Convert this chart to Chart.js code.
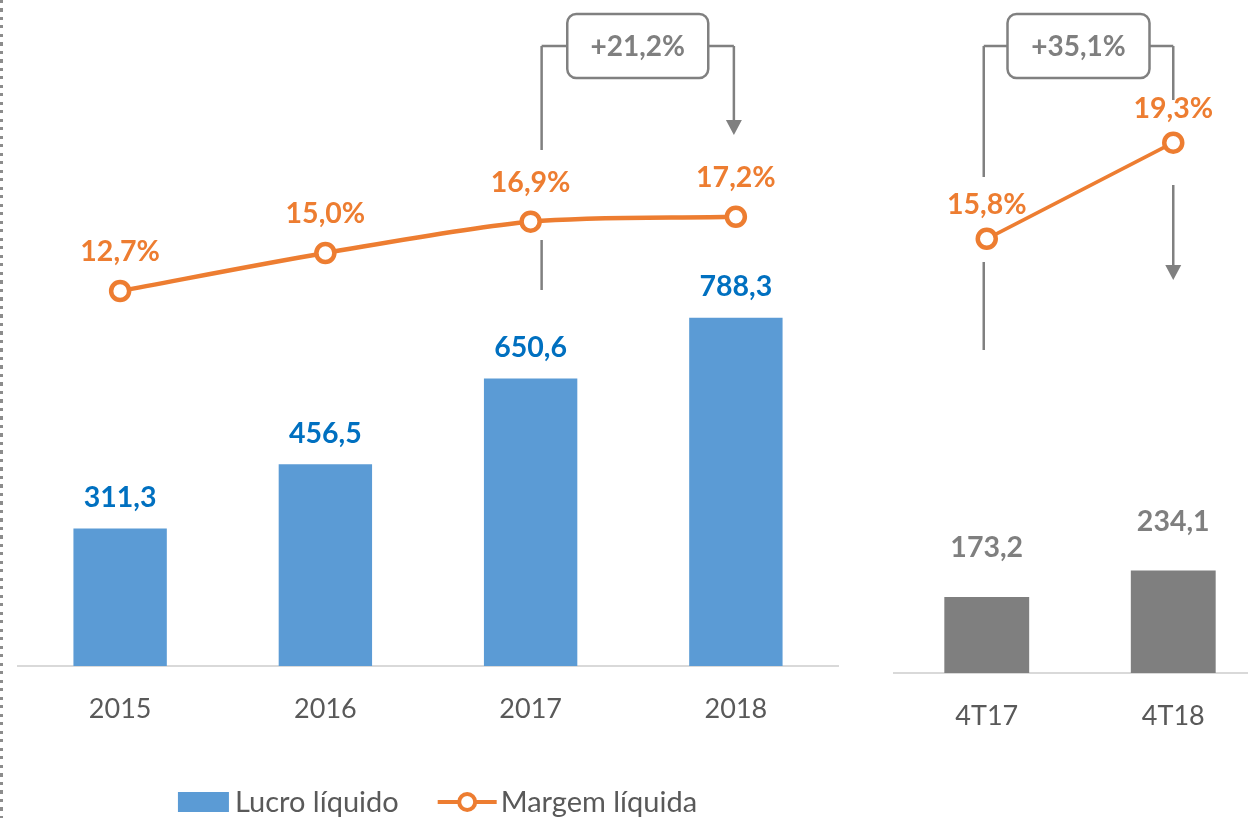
<!DOCTYPE html>
<html>
<head>
<meta charset="utf-8">
<script src="https://cdn.jsdelivr.net/npm/chart.js@4.4.1/dist/chart.umd.min.js"></script>
<style>
  html, body { margin: 0; padding: 0; background: #fff; overflow: hidden; }
  #wrap { position: relative; width: 1248px; height: 818px; overflow: hidden; }
  .dots { position: absolute; left: 0; top: 0; width: 3px; height: 818px;
          background: repeating-linear-gradient(to bottom, #8c8c8c 0 3px, transparent 3px 8.5px); }
  #anual { position: absolute; left: 0; top: 0; width: 860px; height: 818px; }
  #trim { position: absolute; left: 880px; top: 0; width: 400px; height: 818px; }
</style>
</head>
<body>
<div id="wrap">
  <div class="dots"></div>
  <canvas id="anual" width="860" height="818"></canvas>
  <canvas id="trim" width="400" height="818"></canvas>
</div>
<script>
// dados
const anos = ['2015', '2016', '2017', '2018'];
const lucroAnual = [311.3, 456.5, 650.6, 788.3];
const margemAnual = [12.7, 15.0, 16.9, 17.2];

const trimestres = ['4T17', '4T18'];
const lucroTrim = [173.2, 234.1];
const margemTrim = [15.8, 19.3];

const variacaoAnual = '+21,2%';
const variacaoTrim = '+35,1%';

const FONTE = 'Lato';
const AZUL = '#5B9BD5';
const AZUL_TXT = '#0070C0';
const LARANJA = '#ED7D31';
const CINZA = '#7F7F7F';
const CINZA_TXT = '#595959';
const LINHA = '#808080';

const fmt = (v) => v.toFixed(1).replace('.', ',');

// rótulos de valor acima das barras / pontos
const rotulos = {
  id: 'rotulos',
  afterDatasetsDraw(chart, args, opts) {
    const ctx = chart.ctx;
    chart.data.datasets.forEach((ds, i) => {
      const cfg = opts.series[i];
      const meta = chart.getDatasetMeta(i);
      ctx.save();
      ctx.font = `bold ${cfg.size}px ${FONTE}`;
      ctx.fillStyle = cfg.color;
      ctx.textAlign = 'center';
      ctx.textBaseline = 'middle';
      meta.data.forEach((el, j) => {
        ctx.fillText(fmt(ds.data[j]) + cfg.suffix, el.x, el.y - cfg.offset);
      });
      ctx.restore();
    });
  }
};

// chave com caixa de variação e seta
const chave = {
  id: 'chave',
  beforeDatasetsDraw(chart, args, o) {
    const ctx = chart.ctx;
    const xs = chart.scales.x;
    const xL = xs.getPixelForValue(o.from) + o.dxL;
    const xR = xs.getPixelForValue(o.to) + o.dxR;
    const cx = (xL + xR) / 2;
    const bx = cx - o.boxW / 2, by = o.top - o.boxH / 2;
    ctx.save();
    ctx.strokeStyle = LINHA;
    ctx.lineWidth = 2.5;
    ctx.beginPath();
    ctx.moveTo(bx, o.top); ctx.lineTo(xL, o.top);
    ctx.moveTo(bx + o.boxW, o.top); ctx.lineTo(xR, o.top);
    o.segL.forEach(([a, b]) => { ctx.moveTo(xL, a); ctx.lineTo(xL, b); });
    o.segR.forEach(([a, b]) => { ctx.moveTo(xR, a); ctx.lineTo(xR, b); });
    ctx.stroke();
    // ponta da seta
    ctx.fillStyle = LINHA;
    ctx.beginPath();
    ctx.moveTo(xR - 8, o.tip - 15);
    ctx.lineTo(xR + 8, o.tip - 15);
    ctx.lineTo(xR, o.tip);
    ctx.closePath();
    ctx.fill();
    // caixa
    ctx.fillStyle = '#fff';
    ctx.beginPath();
    ctx.roundRect(bx, by, o.boxW, o.boxH, 9);
    ctx.fill();
    ctx.stroke();
    ctx.fillStyle = CINZA;
    ctx.font = `bold 28px ${FONTE}`;
    ctx.textAlign = 'center';
    ctx.textBaseline = 'middle';
    ctx.fillText(o.text, cx, o.top + 1);
    ctx.restore();
  }
};

// legenda desenhada à mão (caixa azul + linha com marcador)
const legenda = {
  id: 'legenda',
  afterDraw(chart, args, o) {
    const ctx = chart.ctx;
    const [linha, barra] = chart.data.datasets;
    ctx.save();
    ctx.font = `29px ${FONTE}`;
    const w1 = ctx.measureText(barra.label).width;
    const w2 = ctx.measureText(linha.label).width;
    const total = 51 + 6 + w1 + 39 + 59 + 4 + w2;
    let x = o.cx - total / 2;
    const y = o.y;
    ctx.fillStyle = barra.backgroundColor;
    ctx.fillRect(x, y - 10, 51, 20);
    x += 57;
    ctx.fillStyle = CINZA_TXT;
    ctx.textBaseline = 'middle';
    ctx.fillText(barra.label, x, y + 1);
    x += w1 + 39;
    ctx.strokeStyle = linha.borderColor;
    ctx.lineWidth = 4;
    ctx.beginPath(); ctx.moveTo(x, y); ctx.lineTo(x + 59, y); ctx.stroke();
    ctx.beginPath(); ctx.arc(x + 29.5, y, 8, 0, Math.PI * 2);
    ctx.fillStyle = '#fff'; ctx.fill(); ctx.lineWidth = 4; ctx.stroke();
    x += 63;
    ctx.fillStyle = CINZA_TXT;
    ctx.fillText(linha.label, x, y + 1);
    ctx.restore();
  }
};

function eixoX(altura) {
  return {
    grid: { display: false, drawTicks: false },
    border: { display: true, color: '#d9d9d9', width: 2 },
    ticks: { font: { family: FONTE, size: 27 }, color: CINZA_TXT, padding: 27 },
    afterFit(s) { s.height = altura; }
  };
}

function linhaMargem(dados, largura, tensao) {
  return {
    type: 'line', label: 'Margem líquida', data: dados, yAxisID: 'y1',
    borderColor: LARANJA, borderWidth: largura, tension: tensao,
    pointRadius: 9, pointBorderWidth: 4.5, pointBackgroundColor: '#fff',
    pointBorderColor: LARANJA, order: 0, clip: false
  };
}

new Chart(document.getElementById('anual'), {
  data: {
    labels: anos,
    datasets: [
      linhaMargem(margemAnual, 4.5, 0.3),
      { type: 'bar', label: 'Lucro líquido', data: lucroAnual, yAxisID: 'y',
        backgroundColor: AZUL, categoryPercentage: 1, barPercentage: 0.455, order: 1 }
    ]
  },
  options: {
    responsive: false, animation: false,
    layout: { padding: { left: 17.5, right: 21.5, top: 10, bottom: 0 } },
    scales: {
      x: eixoX(152),
      y: { display: false, min: 0, max: 1477 },
      y1: { display: false, min: -10, max: 29.5 }
    },
    plugins: {
      legend: { display: false },
      tooltip: { enabled: false },
      rotulos: { series: [
        { size: 28.5, color: LARANJA, suffix: '%', offset: 39 },
        { size: 28.5, color: AZUL_TXT, suffix: '', offset: 31 }
      ] },
      chave: { from: 2, to: 3, dxL: 11, dxR: -2, top: 46, boxW: 141, boxH: 64,
               segL: [[46, 150], [240, 290]], segR: [[46, 122]], tip: 135, text: variacaoAnual },
      legenda: { cx: 437.5, y: 802 }
    }
  },
  plugins: [chave, rotulos, legenda]
});

new Chart(document.getElementById('trim'), {
  data: {
    labels: trimestres,
    datasets: [
      linhaMargem(margemTrim, 3.5, 0),
      { type: 'bar', label: 'Lucro líquido', data: lucroTrim, yAxisID: 'y',
        backgroundColor: CINZA, categoryPercentage: 1, barPercentage: 0.455, order: 1 }
    ]
  },
  options: {
    responsive: false, animation: false,
    layout: { padding: { left: 12.5, right: 13.5, top: 10, bottom: 0 } },
    scales: {
      x: eixoX(145),
      y: { display: false, min: 0, max: 1505 },
      y1: { display: false, min: 0, max: 24 }
    },
    plugins: {
      legend: { display: false },
      tooltip: { enabled: false },
      rotulos: { series: [
        { size: 28.5, color: LARANJA, suffix: '%', offset: 34 },
        { size: 28.5, color: CINZA, suffix: '', offset: 49 }
      ] },
      chave: { from: 0, to: 1, dxL: -3, dxR: 0, top: 46, boxW: 142, boxH: 64,
               segL: [[46, 177], [262, 350]], segR: [[46, 100], [185, 270]], tip: 280, text: variacaoTrim }
    }
  },
  plugins: [chave, rotulos]
});
</script>
</body>
</html>
